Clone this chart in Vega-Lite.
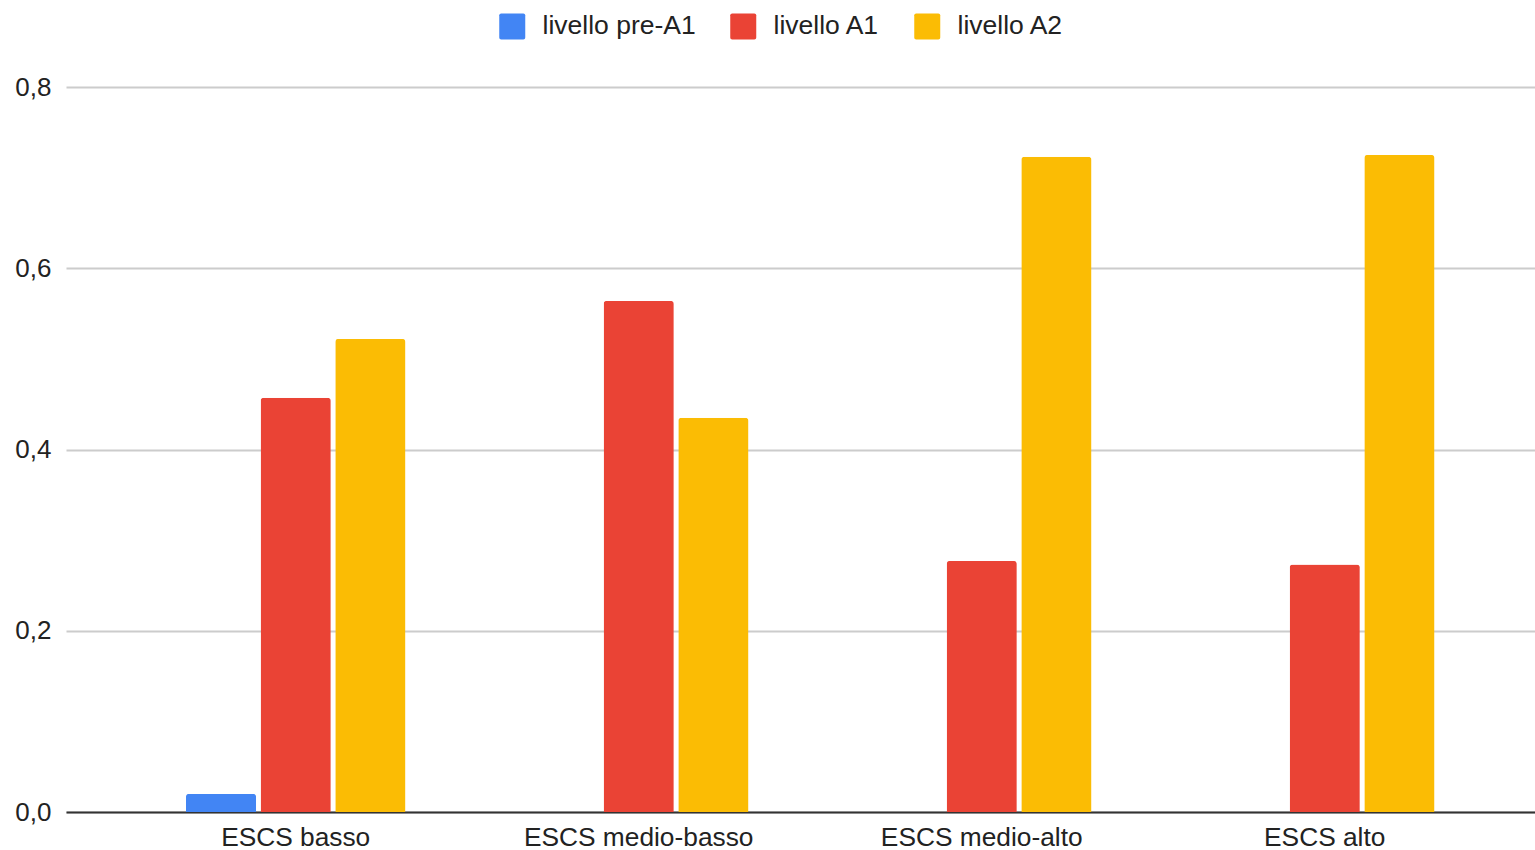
{
  "$schema": "https://vega.github.io/schema/vega-lite/v6.json",
  "autosize": "none",
  "width": 1469,
  "height": 725,
  "padding": {"left": 66, "top": 87, "right": 0, "bottom": 38},
  "background": "white",
  "data": {
    "values": [
      {"gruppo": "ESCS basso", "livello": "livello pre-A1", "valore": 0.02},
      {"gruppo": "ESCS basso", "livello": "livello A1", "valore": 0.457},
      {"gruppo": "ESCS basso", "livello": "livello A2", "valore": 0.522},
      {"gruppo": "ESCS medio-basso", "livello": "livello A1", "valore": 0.564},
      {"gruppo": "ESCS medio-basso", "livello": "livello A2", "valore": 0.435},
      {"gruppo": "ESCS medio-alto", "livello": "livello A1", "valore": 0.277},
      {"gruppo": "ESCS medio-alto", "livello": "livello A2", "valore": 0.723},
      {"gruppo": "ESCS alto", "livello": "livello A1", "valore": 0.273},
      {"gruppo": "ESCS alto", "livello": "livello A2", "valore": 0.725}
    ]
  },
  "mark": {"type": "bar", "cornerRadiusTopLeft": 3, "cornerRadiusTopRight": 3},
  "encoding": {
    "x": {
      "field": "gruppo",
      "type": "nominal",
      "sort": ["ESCS basso", "ESCS medio-basso", "ESCS medio-alto", "ESCS alto"],
      "scale": {"paddingInner": 0.36, "paddingOuter": 0.3213, "align": 0.544},
      "axis": {
        "title": null,
        "labelAngle": 0,
        "ticks": false,
        "labelPadding": 12,
        "labelLimit": 0,
        "labelFont": "Liberation Sans",
        "labelFontSize": 26.3,
        "labelColor": "#222222",
        "domainColor": "#333333",
        "domainWidth": 2,
        "grid": false
      }
    },
    "xOffset": {
      "field": "livello",
      "type": "nominal",
      "scale": {"domain": ["livello pre-A1", "livello A1", "livello A2"], "paddingInner": 0.06, "paddingOuter": 0}
    },
    "y": {
      "field": "valore",
      "type": "quantitative",
      "scale": {"domain": [0, 0.8], "nice": false},
      "axis": {
        "title": null,
        "values": [0, 0.2, 0.4, 0.6, 0.8],
        "labelExpr": "replace(format(datum.value, '.1f'), '.', ',')",
        "ticks": false,
        "domain": false,
        "labelPadding": 15,
        "labelFont": "Liberation Sans",
        "labelFontSize": 26,
        "labelColor": "#222222",
        "gridColor": "#cccccc",
        "gridWidth": 2
      }
    },
    "color": {
      "field": "livello",
      "type": "nominal",
      "scale": {
        "domain": ["livello pre-A1", "livello A1", "livello A2"],
        "range": ["#4285F4", "#EA4335", "#FBBC04"]
      },
      "legend": {
        "title": null,
        "orient": "none",
        "direction": "horizontal",
        "legendX": 433,
        "legendY": -74,
        "symbolType": "M-1,-0.85A0.15,0.15,0,0,1,-0.85,-1L0.85,-1A0.15,0.15,0,0,1,1,-0.85L1,0.85A0.15,0.15,0,0,1,0.85,1L-0.85,1A0.15,0.15,0,0,1,-1,0.85Z",
        "symbolSize": 676,
        "symbolStrokeWidth": 0,
        "labelFont": "Liberation Sans",
        "labelFontSize": 26.5,
        "labelColor": "#222222",
        "labelOffset": 17,
        "labelLimit": 0,
        "columnPadding": 34
      }
    }
  },
  "config": {"view": {"stroke": null}}
}
